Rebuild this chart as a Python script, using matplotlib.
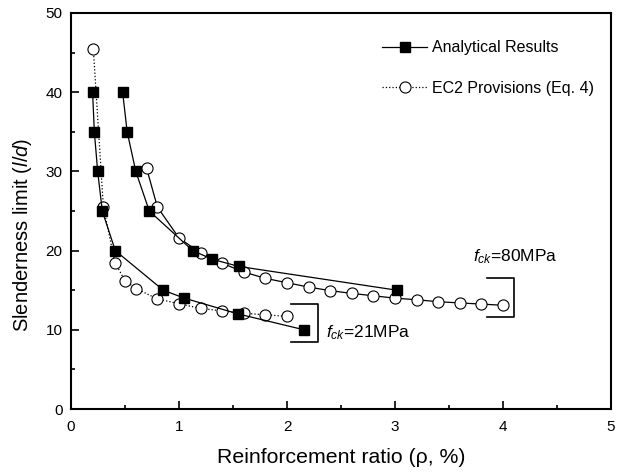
import matplotlib
matplotlib.use("Agg")
import matplotlib.pyplot as plt
from matplotlib.ticker import MultipleLocator

plt.rcParams['font.family'] = ['Liberation Sans', 'DejaVu Sans']
plt.rcParams['mathtext.fontset'] = 'custom'
plt.rcParams['mathtext.rm'] = 'Liberation Sans'
plt.rcParams['mathtext.it'] = 'Liberation Sans:italic'

# analytical results (filled squares)
rho_an_21 = [0.20, 0.216, 0.247, 0.29, 0.41, 0.855, 1.05, 1.55, 2.16]
ld_an_21 = [40, 35, 30, 25, 20, 15, 14, 12, 10]
rho_an_80 = [0.478, 0.52, 0.60, 0.725, 1.127, 1.31, 1.555, 3.02]
ld_an_80 = [40, 35, 30, 25, 20, 18.9, 18.0, 15.0]

# EC2 provisions (open circles)
rho_ec_21 = [0.207, 0.30, 0.407, 0.50, 0.605, 0.80, 1.0, 1.2, 1.4, 1.6, 1.8, 2.0]
ld_ec_21 = [45.4, 25.5, 18.5, 16.2, 15.2, 13.9, 13.3, 12.7, 12.4, 12.1, 11.9, 11.7]
rho_ec_80 = [0.70, 0.80, 1.0, 1.2, 1.4, 1.6, 1.8, 2.0, 2.2, 2.4, 2.6, 2.8, 3.0,
             3.2, 3.4, 3.6, 3.8, 4.0]
ld_ec_80 = [30.4, 25.5, 21.6, 19.7, 18.4, 17.3, 16.5, 15.95, 15.4, 14.95, 14.6,
            14.3, 14.0, 13.8, 13.55, 13.4, 13.25, 13.1]

fig = plt.figure(figsize=(6.25, 4.74), dpi=100)
ax = fig.add_axes([0.1136, 0.137, 0.864, 0.8356])

sq = dict(color='black', lw=0.9, marker='s', markersize=6.5,
          markerfacecolor='black', markeredgecolor='black')
ci = dict(color='black', lw=0.9, marker='o', markersize=8,
          markerfacecolor='white', markeredgecolor='black', markeredgewidth=0.8)

ax.plot(rho_ec_21, ld_ec_21, ls=':', zorder=2, **ci)
ax.plot(rho_ec_80, ld_ec_80, ls='-', zorder=2, **ci)
ax.plot(rho_an_21, ld_an_21, ls='-', zorder=3, label='Analytical Results', **sq)
ax.plot(rho_an_80, ld_an_80, ls='-', zorder=3, **sq)
ax.plot([], [], ls=':', label='EC2 Provisions (Eq. 4)', **ci)

# brackets
ax.plot([2.04, 2.29, 2.29, 2.04], [13.26, 13.26, 8.5, 8.5], color='black', lw=1.2)
ax.plot([3.85, 4.10, 4.10, 3.85], [16.6, 16.6, 11.65, 11.65], color='black', lw=1.2)
ax.text(2.36, 9.6, r'$f_{ck}$=21MPa', fontsize=12.5, va='center', ha='left')
ax.text(3.72, 19.3, r'$f_{ck}$=80MPa', fontsize=12.5, va='center', ha='left')

ax.set_xlim(0, 5)
ax.set_ylim(0, 50)
ax.xaxis.set_major_locator(MultipleLocator(1))
ax.xaxis.set_minor_locator(MultipleLocator(0.5))
ax.yaxis.set_major_locator(MultipleLocator(10))
ax.yaxis.set_minor_locator(MultipleLocator(5))
ax.tick_params(which='both', direction='in', top=False, right=False, labelsize=11, width=1.2)
ax.tick_params(axis='x', which='major', pad=8)
ax.tick_params(axis='y', which='major', pad=6)
ax.tick_params(which='major', length=6)
ax.tick_params(which='minor', length=3)
for s in ax.spines.values():
    s.set_linewidth(1.5)

ax.set_xlabel('Reinforcement ratio (ρ, %)', fontsize=15.3, labelpad=10)
ax.set_ylabel(r'Slenderness limit ($l/d$)', fontsize=14.5)
ax.yaxis.set_label_coords(-0.068, 0.44)

ax.legend(loc='upper left', bbox_to_anchor=(0.55, 0.967), frameon=False,
          fontsize=11.5, labelspacing=1.6, handlelength=2.8, handletextpad=0.3)

fig.savefig('out.png', dpi=100)
